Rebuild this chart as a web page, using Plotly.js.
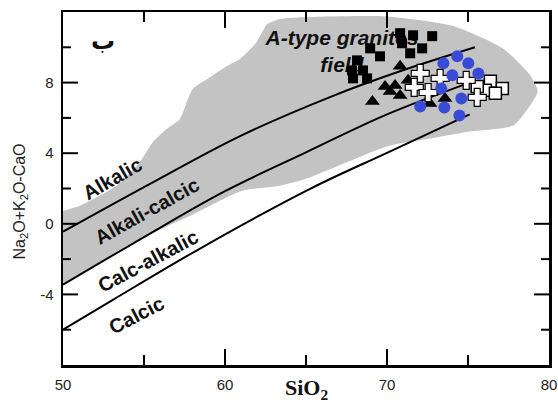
<!DOCTYPE html>
<html>
<head>
<meta charset="utf-8">
<script src="https://cdn.plot.ly/plotly-3.0.1.min.js"></script>
<style>html,body{margin:0;padding:0;background:#fff;}#chart{width:558px;height:405px;}</style>
</head>
<body>
<div id="chart"></div>
<script>
// A-type granite field outline (SiO2, MALI)
const fieldSiO2 = [50, 51.05, 53.3, 54.75, 55.55, 56.4, 57.2, 58.0, 58.9, 60.1, 60.9, 61.95, 62.6, 63.4, 64.8, 70.0, 74.1, 77.2, 78.85, 79.3, 78.7, 77.8, 75.1, 72.65, 70.2, 68.5, 66.5, 65.05, 63.4, 61.05, 57.85, 54.15, 52.3, 50];
const fieldMALI = [0.73, 1.02, 2.15, 3.5, 4.63, 5.37, 5.93, 7.63, 8.2, 8.93, 9.32, 10.28, 11.3, 11.6, 11.7, 11.75, 11.2, 9.9, 8.4, 7.5, 6.53, 5.57, 5.23, 4.83, 4.43, 3.86, 3.1, 2.56, 2.16, 1.87, 0.45, -1.13, -2.15, -3.45];

// Boundary curves
const alkalicSiO2 = [50, 55.37, 60.93, 66.48, 70.8, 75.43];
const alkalicMALI = [-0.45, 2.26, 4.97, 7.18, 8.64, 10.0];
const alkaliCalcicSiO2 = [50, 55, 60, 65, 70, 75.4];
const alkaliCalcicMALI = [-3.45, -0.75, 1.85, 4.05, 6.2, 8.1];
const calcAlkalicSiO2 = [50, 53.0, 58.46, 65.25, 70.0, 75.1];
const calcAlkalicMALI = [-6.0, -4.35, -1.4, 1.98, 4.02, 6.2];

// Samples
const blackSqX = [70.81, 71.61, 72.79, 72.17, 71.43, 70.93, 69.57, 68.96, 68.15, 67.84, 68.52, 68.77, 67.9];
const blackSqY = [10.8, 10.68, 10.63, 9.94, 9.66, 10.23, 9.49, 9.94, 9.26, 8.69, 8.69, 8.24, 8.24];
const triX = [69.1, 69.88, 70.81, 70.5, 70.81, 70.19, 71.3, 72.65, 73.58];
const triY = [6.93, 7.78, 8.92, 7.84, 7.27, 7.5, 8.13, 6.82, 7.1];
const openSqX = [76.38, 77.12, 76.07, 75.57, 76.69];
const openSqY = [8.07, 7.67, 7.56, 7.78, 7.39];
const crossX = [72.05, 71.68, 72.54, 73.28, 74.89, 75.57];
const crossY = [8.52, 7.73, 7.44, 8.24, 8.13, 7.16];
const blueX = [73.48, 74.34, 75.02, 75.64, 74.03, 73.35, 74.59, 72.05, 73.54, 74.47];
const blueY = [9.09, 9.49, 9.09, 8.52, 8.41, 7.67, 7.1, 6.65, 6.59, 6.14];

// Axis ticks
const xTicks = [50, 60, 70, 80];
const xMinor = [55, 65, 75];
const yTicks = [-4, 0, 4, 8];
const yTickText = ['-4', '0', '4', '8'];
const yMinor = [-6, -2, 2, 6, 10];

const boldFont = {family: 'Liberation Sans, Arial, sans-serif', size: 20, color: '#111', weight: 'bold'};
const lineStyle = {color: '#000', width: 2, shape: 'spline'};

const traces = [
  {x: fieldSiO2, y: fieldMALI, type: 'scatter', mode: 'lines', fill: 'toself', fillcolor: '#c3c3c3', line: {width: 0, shape: 'spline', smoothing: 0.6}, hoverinfo: 'skip'},
  {x: alkalicSiO2, y: alkalicMALI, type: 'scatter', mode: 'lines', line: lineStyle},
  {x: alkaliCalcicSiO2, y: alkaliCalcicMALI, type: 'scatter', mode: 'lines', line: lineStyle},
  {x: calcAlkalicSiO2, y: calcAlkalicMALI, type: 'scatter', mode: 'lines', line: lineStyle},
  {x: [67.22], y: [9.66], type: 'scatter', mode: 'text', text: ['A-type granites<br>field'],
   textfont: {family: 'Liberation Sans, Arial, sans-serif', size: 21, color: '#111', weight: 'bold', style: 'italic'}, textposition: 'middle center'},
  {x: blackSqX, y: blackSqY, type: 'scatter', mode: 'markers', marker: {symbol: 'square', size: 10, color: '#000'}},
  {x: triX, y: triY, type: 'scatter', mode: 'markers', marker: {symbol: 'triangle-up', size: 13, color: '#000'}},
  {x: openSqX, y: openSqY, type: 'scatter', mode: 'markers', marker: {symbol: 'square', size: 12, color: '#fff', line: {color: '#000', width: 1.5}}},
  {x: crossX, y: crossY, type: 'scatter', mode: 'markers', marker: {symbol: 'cross', size: 15, color: '#fff', line: {color: '#000', width: 1.2}}},
  {x: blueX, y: blueY, type: 'scatter', mode: 'markers', marker: {symbol: 'circle', size: 12, color: '#3a4bd6'}}
];

// Inside tick marks on all four sides, placed through the axes' own scales
const tickLine = {color: '#000', width: 2};
const shapes = [];
function xTick(v, len) {
  shapes.push({type: 'line', xref: 'x', yref: 'paper', ysizemode: 'pixel', yanchor: 0, x0: v, x1: v, y0: 0, y1: len, line: tickLine});
  shapes.push({type: 'line', xref: 'x', yref: 'paper', ysizemode: 'pixel', yanchor: 1, x0: v, x1: v, y0: 0, y1: -len, line: tickLine});
}
function yTick(v, len) {
  shapes.push({type: 'line', xref: 'paper', yref: 'y', xsizemode: 'pixel', xanchor: 0, y0: v, y1: v, x0: 0, x1: len, line: tickLine});
  shapes.push({type: 'line', xref: 'paper', yref: 'y', xsizemode: 'pixel', xanchor: 1, y0: v, y1: v, x0: 0, x1: -len, line: tickLine});
}
xTicks.slice(1, -1).forEach(v => xTick(v, 16));
xMinor.forEach(v => xTick(v, 10));
yTicks.forEach(v => yTick(v, 15));
yMinor.forEach(v => yTick(v, 8));

const layout = {
  width: 558, height: 405,
  margin: {l: 63, r: 9, t: 12, b: 40},
  showlegend: false,
  font: {family: 'Liberation Sans, Arial, sans-serif', size: 15, color: '#222'},
  xaxis: {range: [50, 80], tickmode: 'array', tickvals: xTicks, ticks: '', ticklabelstandoff: 4,
    showline: true, linecolor: '#000', linewidth: 2.5, mirror: true, showgrid: false, zeroline: false},
  yaxis: {range: [-8, 12], tickmode: 'array', tickvals: yTicks, ticktext: yTickText, ticks: '', ticklabelstandoff: 4,
    showline: true, linecolor: '#000', linewidth: 2.5, mirror: true, showgrid: false, zeroline: false},
  shapes: shapes,
  annotations: [
    {x: 53.0, y: 2.56, xref: 'x', yref: 'y', text: 'Alkalic', showarrow: false, textangle: -30, font: boldFont},
    {x: 55.18, y: 0.74, xref: 'x', yref: 'y', text: 'Alkali-calcic', showarrow: false, textangle: -29, font: boldFont},
    {x: 55.25, y: -2.1, xref: 'x', yref: 'y', text: 'Calc-alkalic', showarrow: false, textangle: -28, font: boldFont},
    {x: 54.55, y: -5.17, xref: 'x', yref: 'y', text: 'Calcic', showarrow: false, textangle: -27, font: boldFont},
    {x: 52.45, y: 10.34, xref: 'x', yref: 'y', text: 'ب', showarrow: false, font: {family: 'DejaVu Sans, sans-serif', size: 24, color: '#111', weight: 'bold'}},
    {x: 0, y: 0.5, xref: 'paper', yref: 'paper', xanchor: 'center', yanchor: 'middle', xshift: -43, yshift: -13, text: 'Na<sub>2</sub>O+K<sub>2</sub>O-CaO', textangle: -90, showarrow: false,
     font: {family: 'Liberation Sans, Arial, sans-serif', size: 16, color: '#222'}},
    {x: 0.5, y: 0, xref: 'paper', yref: 'paper', xanchor: 'center', yanchor: 'middle', yshift: -24, text: '<b>SiO<sub>2</sub></b>', showarrow: false,
     font: {family: 'Liberation Serif, Times New Roman, serif', size: 22, color: '#111'}}
  ]
};

Plotly.newPlot('chart', traces, layout, {displayModeBar: false, staticPlot: true});
</script>
</body>
</html>
